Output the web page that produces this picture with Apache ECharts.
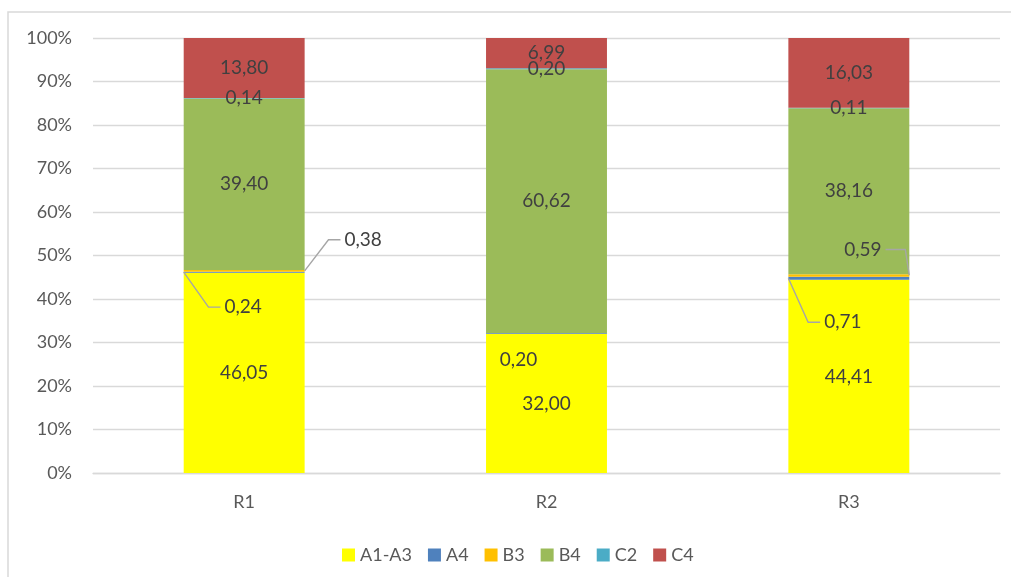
<!DOCTYPE html>
<html><head><meta charset="utf-8">
<script src="https://cdn.jsdelivr.net/npm/echarts@6/dist/echarts.min.js"></script>
<style>html,body{margin:0;padding:0;background:#fff}#c{width:1011px;height:577px}</style>
</head><body><div id="c"></div><script>
// ---- data ----
const categories = ['R1', 'R2', 'R3'];
const seriesNames = ['A1-A3', 'A4', 'B3', 'B4', 'C2', 'C4'];
const a1a3 = [46.05, 32.00, 44.41];
const a4   = [0.24, 0.20, 0.71];
const b3   = [0.38, 0, 0.59];
const b4   = [39.40, 60.62, 38.16];
const c2   = [0.14, 0.20, 0.11];
const c4   = [13.80, 6.99, 16.03];
const yTickValues = [0, 10, 20, 30, 40, 50, 60, 70, 80, 90, 100];

// ---- styles ----
const seriesValues = [a1a3, a4, b3, b4, c2, c4];
const colors = ['#FFFF00', '#4F81BD', '#FFC000', '#9BBB59', '#4BACC6', '#C0504D'];
const FONT = 'Lato';
const TXT = '#404040';
const LABEL_SIZE = 19;
const BAR_FRAC = 0.4;

// label displacement (layout config, pixels)
const moved = {
  'A4': {
    0: { dx: -1, dy: 35, from: 'left', side: 'left' },
    1: { dx: -28, dy: 27 },
    2: { dx: -6, dy: 44, from: 'left', side: 'left' }
  },
  'B3': {
    0: { dx: 119, dy: -31, from: 'right', side: 'left' },
    2: { dx: 14, dy: -26, from: 'right', side: 'right' }
  }
};

function fmt(v) { return v ? v.toFixed(2).replace('.', ',') : ''; }

const ctx = document.createElement('canvas').getContext('2d');
ctx.font = LABEL_SIZE + 'px ' + FONT;
function textW(t) { return ctx.measureText(t).width; }

function makeLayout(name) {
  return function (p) {
    const m = moved[name] && moved[name][p.dataIndex];
    if (!m) return {};
    return { dx: m.dx, dy: m.dy };
  };
}

const series = seriesNames.map(function (name, si) {
  return {
    name: name,
    type: 'bar',
    stack: 'total',
    barWidth: (BAR_FRAC * 100) + '%',
    itemStyle: { color: colors[si] },
    label: {
      show: true,
      position: 'inside',
      color: TXT,
      fontFamily: FONT,
      fontSize: LABEL_SIZE,
      formatter: function (p) { return fmt(p.value); }
    },
    labelLayout: makeLayout(name),
    emphasis: { disabled: true },
    data: seriesValues[si].slice()
  };
});

// leader lines: anchored at the middle of each small stacked segment (derived from data)
const leaders = [];
seriesNames.forEach(function (name, si) {
  const mm = moved[name];
  if (!mm) return;
  Object.keys(mm).forEach(function (k) {
    const i = +k, m = mm[k];
    if (!m.from) return;
    let base = 0;
    for (let s = 0; s < si; s++) base += seriesValues[s][i];
    const mid = base + seriesValues[si][i] / 2;
    leaders.push({ value: [i, mid], m: m, text: fmt(seriesValues[si][i]) });
  });
});

series.push({
  type: 'custom',
  name: 'leaders',
  z: 10,
  silent: true,
  encode: { x: 0, y: 1 },
  data: leaders.map(function (d) { return d.value; }),
  renderItem: function (params, api) {
    const item = leaders[params.dataIndex];
    const m = item.m;
    const pt = api.coord([api.value(0), api.value(1)]);
    const bw = api.size([1, 0])[0] * BAR_FRAC;
    const bx = m.from === 'left' ? pt[0] - bw / 2 : pt[0] + bw / 2;
    const by = pt[1];
    const cx = pt[0] + m.dx, cy = pt[1] + m.dy;
    const w = textW(item.text);
    let pts;
    if (m.side === 'right') {
      const ex = cx + w / 2 + 4;
      pts = [[ex, cy], [bx - 4, cy], [bx, by]];
    } else {
      const ex = cx - w / 2 - 4;
      pts = [[bx, by], [ex - 12, cy], [ex, cy]];
    }
    return {
      type: 'polyline',
      shape: { points: pts },
      style: { stroke: '#A6A6A6', lineWidth: 1.4, fill: null }
    };
  }
});

const chart = echarts.init(document.getElementById('c'));
chart.setOption({
  animation: false,
  backgroundColor: '#ffffff',
  textStyle: { fontFamily: FONT },
  graphic: [{
    type: 'rect', silent: true, z: -10,
    shape: { x: 8, y: 12, width: 1100, height: 700 },
    style: { fill: 'none', stroke: '#D9D9D9', lineWidth: 1.5 }
  }],
  grid: { left: 93, right: 11, top: 38, bottom: 104 },
  legend: {
    data: seriesNames,
    top: 541,
    left: 337,
    itemWidth: 13,
    itemHeight: 13,
    itemGap: 16,
    icon: 'rect',
    textStyle: { color: '#595959', fontSize: 18, fontFamily: FONT }
  },
  xAxis: {
    type: 'category',
    data: categories,
    axisLine: { lineStyle: { color: '#D9D9D9', width: 1.3 } },
    axisTick: { show: false },
    axisLabel: { color: '#595959', fontSize: 18, fontFamily: FONT, margin: 20 }
  },
  yAxis: {
    type: 'value',
    min: yTickValues[0],
    max: yTickValues[yTickValues.length - 1],
    interval: yTickValues[1] - yTickValues[0],
    axisLine: { show: false },
    axisTick: { show: false },
    splitLine: { lineStyle: { color: '#D9D9D9', width: 1.3 } },
    axisLabel: { color: '#595959', fontSize: 18, fontFamily: FONT, margin: 21, formatter: '{value}%' }
  },
  series: series
});
</script></body></html>
